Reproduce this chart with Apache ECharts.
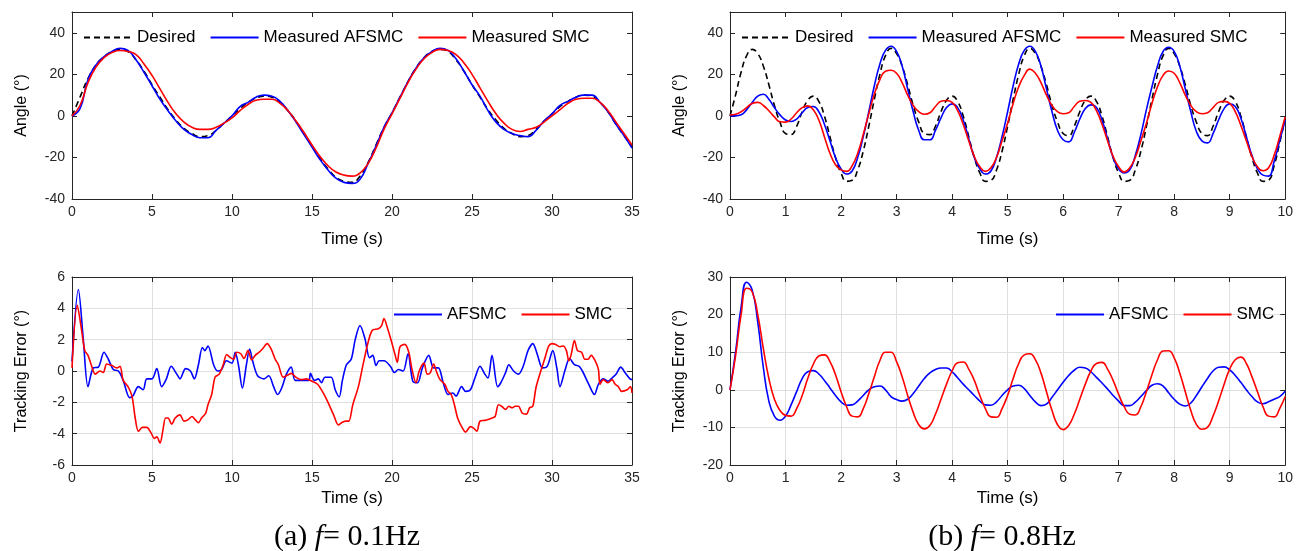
<!DOCTYPE html>
<html>
<head>
<meta charset="utf-8">
<script src="https://cdn.jsdelivr.net/npm/echarts@6/dist/echarts.min.js"></script>
<style>
  html, body { margin: 0; padding: 0; background: #fff; }
  #main { width: 1296px; height: 551px; }
</style>
</head>
<body>
<div id="main"></div>
<script>
// ---- data ----
// (a) f = 0.1Hz, angles sampled every 0.5 s from 0 to 35 s
var desiredSlow = [0, 9, 18, 24.5, 28.5, 31, 32, 31, 27, 21.5, 15, 9, 3, -2, -6, -8.5, -10, -9.5, -7, -3.5,
  0, 3.5, 6.5, 8.5, 9.5, 9, 6.5, 2.5, -2.5, -8.5, -14.5, -20.5, -25.5, -29.5, -31.5, -32, -29, -22.5, -14, -5.5,
  1.5, 9, 16.5, 23, 28, 31, 32, 31, 27, 21.5, 15, 9, 3, -2, -6, -8.5, -10, -9.5, -6.5, -2.5,
  1, 4.5, 7, 9, 10, 9.5, 6.5, 2, -4, -9.5, -15];
var afsmcSlow = [0, 3.5, 17.5, 24.5, 28.5, 31, 32.5, 31.5, 27, 21, 14.5, 8, 2.5, -2.5, -6.5, -9, -10.5, -10.5, -7, -3.5,
  0, 4.5, 6.5, 9, 10, 9.5, 7, 2.5, -3, -9, -15, -21, -26, -30, -32, -32.5, -30.5, -23, -14.5, -5.5,
  1.5, 9, 16.5, 23, 28, 31, 32.5, 31.5, 27.5, 21.5, 15, 9.5, 2.5, -3, -6.5, -8.5, -9.5, -10, -7, -2.5,
  1, 5, 7, 9, 10, 10, 6.5, 2, -4, -9.5, -15.5];
var smcSlow = [0, 5, 16, 23.5, 28, 30.5, 31.5, 31, 29.5, 25, 19.5, 13, 6.5, 1, -3, -5.5, -6.5, -6.5, -5.5, -3.5,
  -1, 2.5, 5.5, 7.5, 8, 8, 6, 2.5, -2.5, -8, -14, -19.5, -24, -27, -28.5, -29, -27.5, -23, -15.5, -6.5,
  1, 8.5, 16, 22.5, 27.5, 30.5, 32, 31.5, 29.5, 25.5, 20, 13.5, 7, 1, -3.5, -6.5, -7.5, -6.5, -5.5, -3,
  0, 3, 6, 8, 8.5, 8.5, 6.5, 2.5, -3, -8.5, -14];

// (b) f = 0.8Hz, angles sampled every 0.1 s from 0 to 10 s
var desiredFast = [0, 10, 21, 29, 32, 30, 24, 15, 5, -3, -8.5, -9, -5, 2, 7.5, 9.5, 7, 0, -10, -20,
  -27.5, -31.5, -31, -26, -17, -5, 8, 20, 29, 32.5, 30, 24, 15, 5, -3, -8.5, -9, -5, 2, 7.5,
  9.5, 7, 0, -10, -20, -27.5, -31.5, -31, -26, -17, -5, 8, 20, 29, 32.5, 30, 24, 15, 5, -3,
  -8.5, -9.5, -5, 2, 7.5, 9.5, 7, 0, -10, -20, -27.5, -31.5, -31, -26, -17, -5, 8, 20, 29, 32.5,
  30, 24, 15, 5, -3, -8.5, -9.5, -5, 2, 7.5, 9.5, 7, 0, -10, -20, -27.5, -31.5, -31, -24, -13, -1];
var afsmcFast = [0, 0, 0.5, 3, 6.5, 9.5, 10.4, 8, 4, 0.5, -2, -2.7, -1.5, 1.5, 4, 4.5, 2, -4, -12, -20,
  -25.5, -28, -26.5, -20, -10, 2, 14.5, 25, 31.5, 33.5, 31, 24, 13, 2, -7, -11.5, -11.5, -7, -1, 4,
  5.8, 4, -2, -11, -20, -25.5, -28, -26.5, -20, -10, 2, 14.5, 25, 31.5, 33.5, 31, 24, 13, 2, -7,
  -11.5, -12.5, -8, -1.5, 3.5, 5.3, 4, -2, -11, -20, -25.5, -27.5, -26, -19, -9, 3, 14, 24, 31, 33,
  31, 24, 13, 2, -7.5, -12, -13, -8.5, -2, 3.5, 5.8, 4.5, -1, -10, -19, -25.5, -28.5, -29, -22, -12, -2];
var smcFast = [0.5, 0.8, 2, 4, 6, 6.5, 5, 2.5, -0.5, -2.8, -3, -1.5, 1.5, 4, 4.8, 3, -2, -10, -18, -23.5,
  -26, -26.7, -24, -18, -9, 1, 10.5, 17.5, 21.5, 22, 20.5, 16, 10, 5, 2, 0.8, 1.5, 4.5, 7, 7.4,
  6.5, 2.5, -4, -12, -19.5, -24.5, -26.7, -25, -20, -12, -3.5, 6, 14, 19.5, 22.5, 20.5, 16, 10, 5, 2,
  1, 1.5, 4.5, 7, 7.4, 6.5, 2.5, -4, -12, -19.5, -24.5, -27, -25, -20, -12, -3.5, 6, 14, 19.5, 21.6,
  20.5, 16, 10, 5, 2, 1, 1.5, 4, 6.5, 7, 6, 2, -4.5, -12, -19.5, -24.5, -26.4, -25, -19, -10, -0.5];

// (a) tracking errors, [time, error]
var afsmcErrSlow = [[0, 0.6], [0.4, 5.2], [0.7, 2.1], [1, -1], [1.33, 0.2], [1.65, 0.25], [2, 1.2], [2.27, 0.75],
  [2.58, 0.1], [2.9, 0], [3.2, -0.6], [3.6, -1.7], [3.8, -1.6], [4.15, -1], [4.45, -1.2], [4.67, -0.5], [5, -0.5],
  [5.3, 0.15], [5.6, -1], [5.9, -0.5], [6.2, 0.3], [6.55, -0.2], [6.75, -0.5], [7.1, 0.15], [7.4, 0], [7.65, -0.5],
  [7.9, 0.4], [8.15, 1.5], [8.3, 1.3], [8.5, 1.6], [8.85, 0.4], [9.1, 0], [9.35, 0.1], [9.65, 0.65], [10, 0.5],
  [10.2, 1.2], [10.4, 0.4], [10.65, -1.1], [10.9, 0.4], [11.1, 1.4], [11.3, 0.6], [11.6, -0.3], [12, -0.5],
  [12.3, -0.3], [12.6, -1], [12.85, -1.5], [13.1, -1.1], [13.4, -0.2], [13.7, 0.25], [13.95, -0.6], [14.35, -0.6],
  [14.8, -0.6], [14.9, -0.15], [15.15, -0.6], [15.4, -0.5], [15.6, -0.75], [15.8, -0.4], [16.2, -0.4], [16.45, -1.2],
  [16.7, -1.65], [16.9, -0.6], [17.15, 0.4], [17.45, 0.75], [17.7, 2], [18, 2.9], [18.3, 2.1], [18.6, 0.85],
  [18.8, 1], [19, 0.35], [19.2, 0.65], [19.5, 0.65], [19.9, 0.3], [20.15, -0.1], [20.4, 0.1], [20.7, 0], [21, 1.1],
  [21.3, -0.65], [21.6, -0.75], [21.9, 0.2], [22.3, 1], [22.6, 0.2], [22.9, 0.2], [23.2, -0.75], [23.5, -1.5],
  [23.8, -1.4], [24, -1.6], [24.35, -1], [24.6, -1.3], [24.9, -1.2], [25.2, -0.4], [25.5, 0.3], [25.8, -0.2],
  [26, -0.45], [26.25, 1], [26.6, -1], [26.8, -0.75], [27.1, -0.1], [27.3, 0.4], [27.6, 0], [27.9, -0.2], [28.2, 0.3],
  [28.5, 1.3], [28.8, 1.75], [29.1, 1], [29.4, 0.2], [29.7, 0.3], [30.05, 1.3], [30.3, 0.2], [30.5, -1], [30.8, 0],
  [31.1, 0.8], [31.4, 0.4], [31.7, 0.3], [31.9, 0], [32.3, -0.85], [32.65, -1.5], [32.9, -0.85], [33.2, -0.5],
  [33.5, -0.65], [33.8, -0.4], [34, -0.2], [34.3, 0.25], [34.56, -0.1], [34.875, -0.5], [35, -0.55]];
var smcErrSlow = [[0, 0.2], [0.33, 4.2], [0.6, 2.6], [0.8, 1.3], [1, 1], [1.2, 0.4], [1.45, -0.2], [1.75, 0],
  [1.95, -0.1], [2.17, 0.45], [2.5, 0.35], [2.8, 0.2], [3, 0.3], [3.2, -0.6], [3.5, -1], [3.75, -1.6], [3.95, -3],
  [4.15, -3.85], [4.4, -3.6], [4.67, -3.6], [4.94, -3.95], [5.15, -4.3], [5.3, -4.2], [5.5, -4.6], [5.67, -3.85],
  [5.85, -3], [6, -3], [6.23, -3.4], [6.45, -3], [6.75, -2.8], [7, -3.2], [7.27, -3.1], [7.5, -2.9], [7.7, -3.1],
  [7.9, -3.3], [8.1, -3], [8.35, -2.7], [8.5, -2.15], [8.73, -1.5], [8.94, -0.4], [9.2, -0.2], [9.45, 0.4],
  [9.67, 1.05], [9.9, 0.85], [10.1, 0.75], [10.3, 1.2], [10.55, 1.1], [10.75, 0.8], [11, 1.3], [11.23, 0.7],
  [11.45, 1], [11.7, 1.2], [11.9, 1.4], [12.2, 1.75], [12.45, 1.4], [12.7, 0.75], [12.9, 0.4], [13.2, -0.4],
  [13.5, -0.25], [13.7, -0.15], [14, -0.4], [14.35, -0.55], [14.65, -0.5], [15, -0.65], [15.35, -0.85], [15.7, -1.4],
  [16, -2], [16.35, -2.8], [16.65, -3.45], [16.85, -3.3], [17.1, -3.2], [17.3, -3.2], [17.55, -2.15], [17.9, -1],
  [18.2, 0.45], [18.5, 1.8], [18.77, 2.6], [19.15, 2.7], [19.35, 2.9], [19.5, 3.35], [19.7, 2.8], [19.95, 1.95],
  [20.2, 1], [20.33, 0.55], [20.5, 1.55], [20.8, 1.7], [21.05, 1.2], [21.25, 0.1], [21.5, -0.75], [21.7, 0], [22, 0.5],
  [22.2, -0.2], [22.4, -0.1], [22.6, 0.45], [22.8, -0.1], [23, -0.55], [23.3, -0.85], [23.5, -1.3], [23.7, -1.5],
  [23.9, -2.15], [24.1, -3], [24.35, -3.55], [24.6, -3.9], [24.9, -3.55], [25.1, -3.65], [25.3, -3.85], [25.5, -3.2],
  [25.8, -3.15], [26, -3.1], [26.25, -3], [26.45, -2.9], [26.65, -2.15], [26.85, -2.25], [27.1, -2.45], [27.3, -2.25],
  [27.5, -2.35], [27.7, -2.25], [27.9, -2.25], [28.15, -2.7], [28.4, -2.75], [28.6, -2.35], [28.8, -2.25], [29, -1.05],
  [29.3, 0], [29.55, 0.8], [29.8, 1.6], [30, 1.75], [30.2, 1.7], [30.5, 1.55], [30.7, 1.6], [30.9, 1.3], [31.05, 0.65],
  [31.2, 1.05], [31.4, 1.95], [31.6, 1.3], [31.85, 1.2], [32.05, 0.75], [32.25, 0.75], [32.45, 1], [32.7, 0.65],
  [32.9, 0.1], [33, -0.85], [33.2, -0.55], [33.5, -0.75], [33.75, -0.55], [33.95, -0.85], [34.15, -1], [34.35, -1.3],
  [34.7, -1.2], [34.9, -1], [35, -1.4]];

// (b) tracking errors every 0.1 s
var afsmcErrFast = [0, 10, 22, 28.6, 26.5, 18, 6, -3, -7, -8.1, -7, -4, -0.5, 3, 4.8, 5.1, 4.2, 2.5, 0.5, -1.5,
  -3.2, -4.1, -4, -3, -1.5, 0, 0.8, 1, 0, -1.8, -2.6, -3, -2.5, -1, 1, 3, 4.5, 5.4, 5.8, 5.8,
  4.8, 3.2, 1.5, 0, -1.5, -3, -4, -4.1, -3.2, -1.5, 0, 1, 1.2, 0.3, -1.5, -3.2, -4.2, -3.8, -2, 0,
  2, 3.8, 5.2, 6, 5.8, 4.8, 3.3, 1.8, 0.2, -1.5, -3, -4.2, -4.2, -3.3, -1.8, -0.2, 1.2, 1.6, 1, -0.8,
  -2.5, -3.8, -4.3, -3.5, -1.5, 0.8, 3, 5, 6, 6.1, 5.3, 3.8, 2, 0, -1.8, -3.2, -3.7, -3.2, -2.5, -1.8, -0.4];
var smcErrFast = [0, 9, 20, 27, 26, 20, 11, 3, -2.5, -5.5, -6.8, -7, -5, -1.5, 3, 6.8, 9, 9.3, 7.5, 4,
  -0.5, -4.5, -7, -7.2, -5, -1, 3.5, 7.8, 10, 10, 7.5, 3.5, -1.5, -6, -9.3, -10.4, -9.5, -6.5, -2.5, 1.5,
  5, 7.2, 7.4, 5.5, 2.5, -1.5, -5, -7.2, -7.3, -5, -1.5, 3, 7, 9.3, 9.6, 8, 4.5, -0.5, -5.5, -9.3,
  -10.6, -9.5, -6.5, -2.5, 1.5, 5, 7, 7.3, 5.5, 2.5, -1.2, -4.5, -6.5, -6.7, -4.5, -0.5, 4, 8, 10.3, 10.4,
  8.5, 4.5, -0.5, -5.5, -9.2, -10.5, -10, -7, -3, 1.5, 5.5, 8, 8.7, 7, 3.5, -0.5, -4.5, -7, -7.2, -5, -1.8];

var timeSlow = [];
for (var i = 0; i <= 70; i++) timeSlow.push(i / 2);
var timeFast = [];
for (var j = 0; j <= 100; j++) timeFast.push(j / 10);

function zip(ts, vs) {
  return ts.map(function (t, k) { return [t, vs[k]]; });
}

// ---- chart ----
var FONT = 'Liberation Sans, Arial, sans-serif';
var SERIF = 'Liberation Serif, Times New Roman, serif';
var AX = '#262626';
var grids = [
  { left: 72, top: 12, width: 560, height: 187 },
  { left: 730, top: 12, width: 558, height: 187 },
  { left: 72, top: 277, width: 560, height: 188 },
  { left: 730, top: 277, width: 558, height: 188 }
];
var xRange = [[0, 35, 5], [0, 10, 1], [0, 35, 5], [0, 10, 1]];
var yRange = [[-40, 50, 20], [-40, 50, 20], [-6, 6, 2], [-20, 30, 10]];
var yNames = ['Angle (°)', 'Angle (°)', 'Tracking Error (°)', 'Tracking Error (°)'];

var xAxes = [], yAxes = [];
grids.forEach(function (g, k) {
  var withGrid = k >= 2;
  xAxes.push({
    type: 'value', gridIndex: k, min: xRange[k][0], max: xRange[k][1], interval: xRange[k][2],
    name: 'Time (s)', nameLocation: 'middle', nameGap: withGrid ? 25 : 32,
    nameTextStyle: { fontFamily: FONT, fontSize: 17, color: '#000' },
    axisLine: { onZero: false, lineStyle: { color: AX, width: 1 } },
    axisTick: { inside: true, length: 5, lineStyle: { color: AX } },
    axisLabel: { color: AX, fontFamily: FONT, fontSize: 14, margin: 6 },
    splitLine: { show: withGrid, lineStyle: { color: '#dfdfdf', width: 1 } }
  });
  yAxes.push({
    type: 'value', gridIndex: k, min: yRange[k][0], max: yRange[k][1], interval: yRange[k][2],
    name: yNames[k], nameLocation: 'middle', nameGap: 42,
    nameTextStyle: { fontFamily: FONT, fontSize: 16, color: '#000' },
    axisLine: { onZero: false, lineStyle: { color: AX, width: 1 } },
    axisTick: { inside: true, length: 5, lineStyle: { color: AX } },
    axisLabel: { color: AX, fontFamily: FONT, fontSize: 14, margin: 7, showMaxLabel: withGrid },
    splitLine: { show: withGrid, lineStyle: { color: '#dfdfdf', width: 1 } }
  });
});
// mirrored frame sides (top / right) with inward ticks, like a boxed MATLAB axes
grids.forEach(function (g, k) {
  xAxes.push({
    type: 'value', gridIndex: k, position: 'top', min: xRange[k][0], max: xRange[k][1], interval: xRange[k][2],
    axisLine: { onZero: false, lineStyle: { color: AX, width: 1 } },
    axisTick: { inside: true, length: 5, lineStyle: { color: AX } },
    axisLabel: { show: false }, splitLine: { show: false }
  });
  yAxes.push({
    type: 'value', gridIndex: k, position: 'right', min: yRange[k][0], max: yRange[k][1], interval: yRange[k][2],
    axisLine: { onZero: false, lineStyle: { color: AX, width: 1 } },
    axisTick: { inside: true, length: 5, lineStyle: { color: AX } },
    axisLabel: { show: false }, splitLine: { show: false }
  });
});

function line(name, k, data, color, dashed, smooth) {
  return {
    type: 'line', name: name, xAxisIndex: k, yAxisIndex: k, data: data,
    symbol: 'none', smooth: smooth, animation: false,
    lineStyle: { color: color, width: 1.6, type: dashed ? [6, 4] : 'solid' },
    itemStyle: { color: color }
  };
}

function legendAt(left, top, names) {
  return {
    left: left, top: top, itemWidth: 48, itemHeight: 14, itemGap: 14,
    itemStyle: { opacity: 0 },
    textStyle: { fontFamily: FONT, fontSize: 17, color: '#000' },
    data: names
  };
}

function caption(x, label, freq) {
  return {
    type: 'text', x: x, y: 537,
    style: {
      text: '{n|' + label + ' }{i|f}{n|= ' + freq + '}', align: 'center', verticalAlign: 'middle',
      rich: {
        n: { fontFamily: SERIF, fontSize: 30, fill: '#000' },
        i: { fontFamily: SERIF, fontSize: 30, fontStyle: 'italic', fill: '#000' }
      }
    }
  };
}

var chart = echarts.init(document.getElementById('main'));
chart.setOption({
  backgroundColor: '#fff',
  grid: grids,
  xAxis: xAxes,
  yAxis: yAxes,
  legend: [
    legendAt(78, 24, ['Desired', 'Measured AFSMC', 'Measured SMC']),
    legendAt(736, 24, ['Desired', 'Measured AFSMC', 'Measured SMC']),
    legendAt(388, 301, ['AFSMC', 'SMC']),
    legendAt(1050, 301, ['AFSMC', 'SMC'])
  ],
  series: [
    line('Desired', 0, zip(timeSlow, desiredSlow), '#000000', true, true),
    line('Measured AFSMC', 0, zip(timeSlow, afsmcSlow), '#0000ff', false, true),
    line('Measured SMC', 0, zip(timeSlow, smcSlow), '#ff0000', false, true),
    line('Desired', 1, zip(timeFast, desiredFast), '#000000', true, true),
    line('Measured AFSMC', 1, zip(timeFast, afsmcFast), '#0000ff', false, true),
    line('Measured SMC', 1, zip(timeFast, smcFast), '#ff0000', false, true),
    line('AFSMC', 2, afsmcErrSlow, '#0000ff', false, 0.3),
    line('SMC', 2, smcErrSlow, '#ff0000', false, 0.3),
    line('AFSMC', 3, zip(timeFast, afsmcErrFast), '#0000ff', false, true),
    line('SMC', 3, zip(timeFast, smcErrFast), '#ff0000', false, true)
  ],
  graphic: [
    caption(347, '(a)', '0.1Hz'),
    caption(1002, '(b)', '0.8Hz')
  ]
});
</script>
</body>
</html>
